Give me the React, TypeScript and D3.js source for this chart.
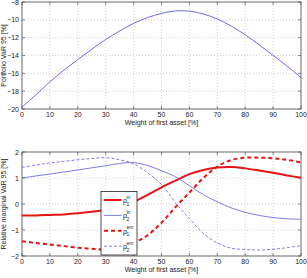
import React, { useEffect, useRef } from "react";
import * as d3 from "d3";

// weight of the first asset, in percent
const weights = [0, 5, 10, 15, 20, 25, 30, 35, 40, 45, 50, 55, 60, 65, 70, 75, 80, 85, 90, 95, 100];

const portfolioVaR = [
  -19.8, -18.4, -16.95, -15.65, -14.45, -13.3, -12.2, -11.25, -10.4, -9.75, -9.28,
  -9.0, -9.02, -9.35, -9.9, -10.7, -11.68, -12.8, -13.98, -15.2, -16.45,
];

const rho1In = [
  -0.44, -0.44, -0.42, -0.4, -0.36, -0.3, -0.22, -0.1, 0.08, 0.35, 0.64,
  0.9, 1.15, 1.31, 1.4, 1.42, 1.37, 1.29, 1.2, 1.1, 1.01,
];
const rho2In = [
  1.0, 1.08, 1.15, 1.23, 1.31, 1.39, 1.47, 1.56, 1.59, 1.48, 1.28,
  1.05, 0.7, 0.36, 0.08, -0.15, -0.32, -0.44, -0.52, -0.57, -0.59,
];
const rho1Em = [
  -1.43, -1.5, -1.56, -1.62, -1.68, -1.72, -1.76, -1.72, -1.5, -1.2, -0.72,
  -0.12, 0.44, 1.0, 1.44, 1.69, 1.78, 1.78, 1.76, 1.7, 1.6,
];
const rho2Em = [
  1.41, 1.5, 1.58, 1.64, 1.7, 1.75, 1.78, 1.7, 1.55, 1.2, 0.75,
  0.05, -0.56, -1.13, -1.5, -1.7, -1.75, -1.77, -1.74, -1.68, -1.6,
];

const xTicks = [0, 10, 20, 30, 40, 50, 60, 70, 80, 90, 100];
const topTicks = [-20, -18, -16, -14, -12, -10, -8];
const bottomTicks = [-2, -1, 0, 1, 2];

const BLUE = "#5a5ae0";
const RED = "#e41414";
const FONT = "'Liberation Sans', Arial, sans-serif";

const series = [
  { values: rho1In, color: RED, width: 2, dash: null, sub: "1", sup: "in" },
  { values: rho2In, color: BLUE, width: 0.8, dash: null, sub: "2", sup: "in" },
  { values: rho1Em, color: RED, width: 2, dash: "4,3", sub: "1", sup: "em" },
  { values: rho2Em, color: BLUE, width: 0.8, dash: "3,2", sub: "2", sup: "em" },
];

export default function App() {
  const ref = useRef<SVGSVGElement | null>(null);
  const width = 307;
  const height = 278;

  useEffect(() => {
    const root = d3.select(ref.current);
    root.selectAll("*").remove();

    const x = d3.scaleLinear().domain([0, 100]).range([22, 301]);

    const drawAxes = (
      y: d3.ScaleLinear<number, number>,
      yTicks: number[],
      yLabel: string,
      labelX: number,
    ) => {
      const [y0, y1] = y.range();
      const g = root.append("g");

      // dotted grid
      xTicks.slice(1, -1).forEach((t) => {
        g.append("line")
          .attr("x1", x(t)).attr("x2", x(t))
          .attr("y1", y1).attr("y2", y0)
          .attr("stroke", "#b0b0b0").attr("stroke-width", 0.6)
          .attr("stroke-dasharray", "1,2");
      });
      yTicks.slice(1, -1).forEach((t) => {
        g.append("line")
          .attr("x1", x(0)).attr("x2", x(100))
          .attr("y1", y(t)).attr("y2", y(t))
          .attr("stroke", "#b0b0b0").attr("stroke-width", 0.6)
          .attr("stroke-dasharray", "1,2");
      });

      // inward tick marks on all four sides
      xTicks.forEach((t) => {
        g.append("line").attr("x1", x(t)).attr("x2", x(t))
          .attr("y1", y0).attr("y2", y0 - 3).attr("stroke", "#555").attr("stroke-width", 0.7);
        g.append("line").attr("x1", x(t)).attr("x2", x(t))
          .attr("y1", y1).attr("y2", y1 + 3).attr("stroke", "#555").attr("stroke-width", 0.7);
        g.append("text")
          .attr("x", x(t)).attr("y", y0 + 8)
          .attr("text-anchor", "middle")
          .style("font-family", FONT).style("font-size", "7px").attr("fill", "#222")
          .text(t);
      });
      yTicks.forEach((t) => {
        g.append("line").attr("x1", x(0)).attr("x2", x(0) + 3)
          .attr("y1", y(t)).attr("y2", y(t)).attr("stroke", "#555").attr("stroke-width", 0.7);
        g.append("line").attr("x1", x(100)).attr("x2", x(100) - 3)
          .attr("y1", y(t)).attr("y2", y(t)).attr("stroke", "#555").attr("stroke-width", 0.7);
        g.append("text")
          .attr("x", x(0) - 3).attr("y", y(t) + 2.5)
          .attr("text-anchor", "end")
          .style("font-family", FONT).style("font-size", "7px").attr("fill", "#222")
          .text(t < 0 ? `\u2212${Math.abs(t)}` : `${t}`);
      });

      g.append("rect")
        .attr("x", x(0)).attr("y", y1)
        .attr("width", x(100) - x(0)).attr("height", y0 - y1)
        .attr("fill", "none").attr("stroke", "#444").attr("stroke-width", 0.8);

      g.append("text")
        .attr("x", (x(0) + x(100)) / 2).attr("y", y0 + 16)
        .attr("text-anchor", "middle")
        .style("font-family", FONT).style("font-size", "7px").attr("fill", "#222")
        .text("Weight of first asset [%]");

      g.append("text")
        .attr("transform", `translate(${labelX},${(y0 + y1) / 2}) rotate(-90)`)
        .attr("text-anchor", "middle")
        .style("font-family", FONT).style("font-size", "7px").attr("fill", "#222")
        .text(yLabel);
    };

    // Portfolio VaR panel
    const yTop = d3.scaleLinear().domain([-20, -8]).range([109, 2]);
    drawAxes(yTop, topTicks, "Portfolio VaR 95 [%]", 6);

    const topLine = d3
      .line<number>()
      .x((_, i) => x(weights[i]))
      .y((d) => yTop(d))
      .curve(d3.curveCatmullRom);
    root.append("path")
      .attr("d", topLine(portfolioVaR) ?? "")
      .attr("fill", "none").attr("stroke", BLUE).attr("stroke-width", 0.9);

    // Relative marginal VaR panel
    const yBot = d3.scaleLinear().domain([-2, 2]).range([256, 152]);
    drawAxes(yBot, bottomTicks, "Relative marginal VaR 95 [%]", 6);

    const botLine = d3
      .line<number>()
      .x((_, i) => x(weights[i]))
      .y((d) => yBot(d))
      .curve(d3.curveCatmullRom);

    series.forEach((s) => {
      root.append("path")
        .attr("d", botLine(s.values) ?? "")
        .attr("fill", "none").attr("stroke", s.color)
        .attr("stroke-width", s.width)
        .attr("stroke-dasharray", s.dash ?? null);
    });

    // Legend
    const lg = root.append("g");
    lg.append("rect")
      .attr("x", 101).attr("y", 191.5).attr("width", 36).attr("height", 63.5)
      .attr("fill", "#fff").attr("stroke", "#222").attr("stroke-width", 0.8);
    series.forEach((s, i) => {
      const ly = 200 + i * 15.4;
      lg.append("line")
        .attr("x1", 104).attr("x2", 121.5).attr("y1", ly).attr("y2", ly)
        .attr("stroke", s.color).attr("stroke-width", s.width)
        .attr("stroke-dasharray", s.dash ?? null);
      const t = lg.append("text")
        .attr("x", 123).attr("y", ly + 3)
        .style("font-family", FONT).style("font-size", "7px").attr("fill", "#222");
      t.append("tspan").text("\u03c1");
      t.append("tspan").attr("x", 126.5).attr("dy", 2.5).style("font-size", "5px").text(s.sub);
      t.append("tspan").attr("x", 126.5).attr("dy", -7).style("font-size", "5px").text(s.sup);
    });
  }, []);

  return (
    <svg
      ref={ref}
      width={width}
      height={height}
      style={{ position: "absolute", left: 0, top: 0, background: "#fff" }}
    />
  );
}
